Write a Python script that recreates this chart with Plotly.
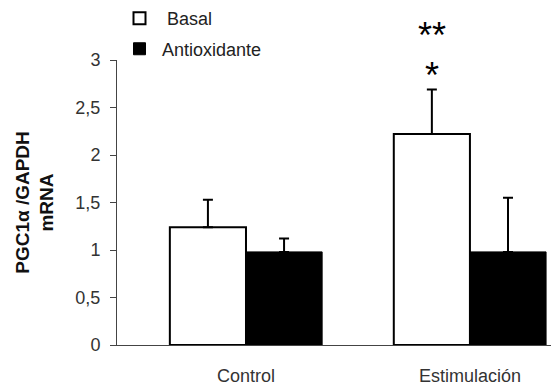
import plotly.graph_objects as go

categories = ["Control", "Estimulación"]
basal = [1.24, 2.22]
basal_err = [0.29, 0.47]
antiox = [0.98, 0.98]
antiox_err = [0.14, 0.57]
ytick_vals = [0, 0.5, 1, 1.5, 2, 2.5, 3]
ytick_text = ["0", "0,5", "1", "1,5", "2", "2,5", "3"]

xpos = list(range(len(categories)))
font_family = "Liberation Sans, Arial, sans-serif"

fig = go.Figure()
fig.add_trace(go.Bar(
    x=xpos, y=basal, name=" Basal", legendgroup="basal",
    marker=dict(color="white", line=dict(color="black", width=2)),
    error_y=dict(type="data", symmetric=False, array=basal_err,
                 arrayminus=[0] * len(basal), color="black", thickness=2, width=5),
))
fig.add_trace(go.Bar(
    x=xpos, y=antiox, name="Antioxidante", legendgroup="antiox",
    marker=dict(color="black", line=dict(color="black", width=1)),
    error_y=dict(type="data", symmetric=False, array=antiox_err,
                 arrayminus=[0] * len(antiox), color="black", thickness=2, width=5),
))

# significance marks above the stimulated basal bar
star_x = 1 - 0.17
fig.add_annotation(x=star_x, xref="x", y=0.966, yref="paper", yanchor="middle",
                   yshift=-6, text="*", showarrow=False,
                   font=dict(size=36, color="black", family=font_family))
fig.add_annotation(x=star_x, xref="x", y=1.107, yref="paper", yanchor="middle",
                   yshift=-6, text="**", showarrow=False,
                   font=dict(size=36, color="black", family=font_family))

fig.update_layout(
    width=551, height=386,
    margin=dict(l=117, r=0, t=58, b=38),
    paper_bgcolor="white", plot_bgcolor="white",
    barmode="group", bargap=0.32, bargroupgap=0,
    font=dict(family=font_family, size=17, color="#333333"),
    showlegend=True,
    legend=dict(x=0.0, y=1.21, xanchor="left", yanchor="top",
                bgcolor="rgba(0,0,0,0)", tracegroupgap=4, itemwidth=35,
                traceorder="grouped", font=dict(size=18, color="#222222")),
    xaxis=dict(
        tickvals=xpos, ticktext=categories, range=[-0.576, 1.362],
        showline=True, linecolor="#444444", linewidth=1,
        ticks="", ticklabelstandoff=14, showgrid=False, zeroline=False,
        tickfont=dict(size=18, color="#333333"),
    ),
    yaxis=dict(
        range=[0, 3], tickvals=ytick_vals, ticktext=ytick_text,
        showline=True, linecolor="#444444", linewidth=1,
        ticks="outside", ticklen=6, tickcolor="#444444",
        ticklabelstandoff=6,
        showgrid=False, zeroline=False,
        tickfont=dict(size=18, color="#333333"),
        title=dict(text="<b>PGC1α /GAPDH<br>mRNA</b>", standoff=16,
                   font=dict(size=19, color="#111111")),
    ),
)

fig.write_html("out.html")
